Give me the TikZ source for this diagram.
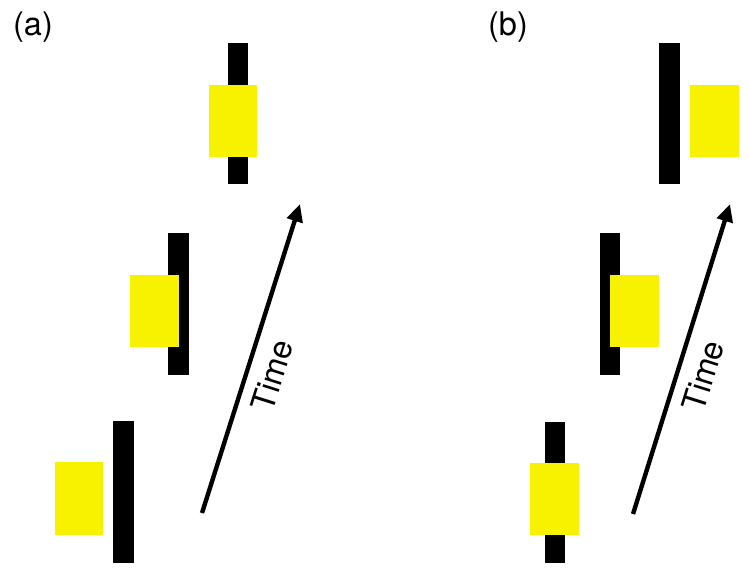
\documentclass[tikz,border=0pt]{standalone}
\usepackage{fontspec}
\setmainfont{TeX Gyre Heros}
\usetikzlibrary{arrows.meta}
\definecolor{probe}{RGB}{248,242,0}

\tikzset{
  bar/.style={fill=black,inner sep=0pt,minimum width=0.41cm,minimum height=2.84cm},
  blob/.style={fill=probe,inner sep=0pt,minimum width=0.98cm,minimum height=1.45cm},
  timearrow/.style={line width=2.5pt,-{Triangle[length=10pt,width=9pt]}},
  panel/.style={font=\fontsize{18.5}{22}\selectfont}
}

\begin{document}
\begin{tikzpicture}[x=0.02cm,y=-0.02cm]
  \useasboundingbox (0,0) rectangle (750,572);
  % Panel (a): blob moves from left of the bar to right across time
  \begin{scope}
    \node[panel] (labA) at (33,27) {(a)};
    \node[bar] (barA1) at (123.5,492) {};
    \node[bar] (barA2) at (178.5,304) {};
    \node[bar] (barA3) at (238,113.5) {};
    \node[blob] (blobA1) at (79,498.5) {};
    \node[blob] (blobA2) at (154.5,311) {};
    \node[blob] (blobA3) at (233,121) {};
    \coordinate (tA0) at (202,513);
    \coordinate (tA1) at (300,204);
    \draw[timearrow] (tA0) -- node[panel,sloped,below,pos=0.47,yshift=-3pt] (timeA) {Time} (tA1);
  \end{scope}
  % Panel (b): blob starts on the bar and leaves to the right
  \begin{scope}
    \node[panel] (labB) at (508,27) {(b)};
    \node[bar] (barB1) at (555,492.5) {};
    \node[bar] (barB2) at (610,304) {};
    \node[bar] (barB3) at (669.5,113.5) {};
    \node[blob] (blobB1) at (554.5,499) {};
    \node[blob] (blobB2) at (634,311) {};
    \node[blob] (blobB3) at (714,121) {};
    \coordinate (tB0) at (633,514);
    \coordinate (tB1) at (730,204);
    \draw[timearrow] (tB0) -- node[panel,sloped,below,pos=0.47,yshift=-3pt] (timeB) {Time} (tB1);
  \end{scope}
\end{tikzpicture}
\end{document}
